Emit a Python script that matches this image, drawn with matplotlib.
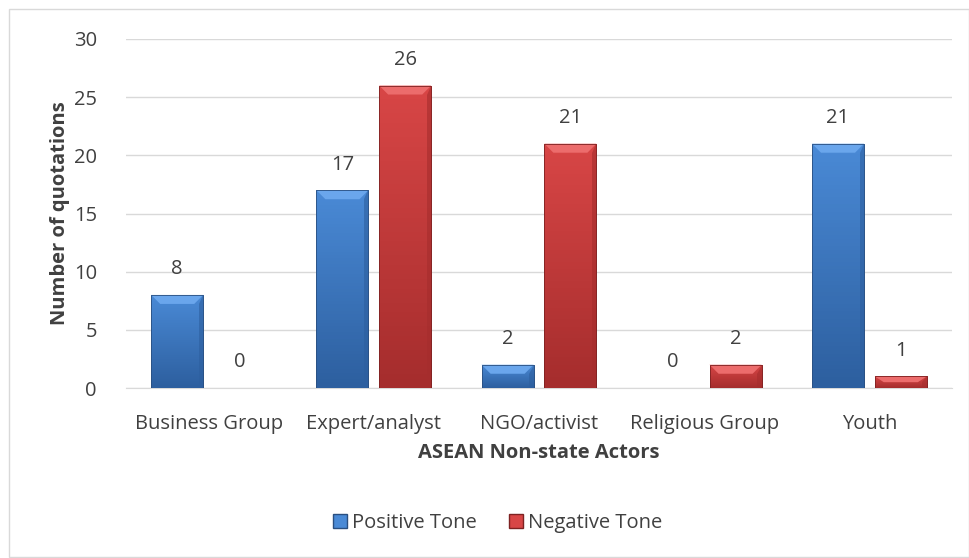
import matplotlib
matplotlib.use("Agg")
import matplotlib.pyplot as plt
from matplotlib.patches import Rectangle, Polygon, Patch
from matplotlib.colors import LinearSegmentedColormap
import numpy as np

categories = ["Business Group", "Expert/analyst", "NGO/activist", "Religious Group", "Youth"]
positive = [8, 17, 2, 0, 21]
negative = [0, 26, 21, 2, 1]
series_names = ["Positive Tone", "Negative Tone"]

plt.rcParams['font.family'] = ['Open Sans', 'DejaVu Sans']
txt = '#404040'
fs = 14.5
fig = plt.figure(figsize=(9.7, 5.58), dpi=100)
fig.patches.append(Rectangle((9/970, 1/558), 960/970, 548/558, transform=fig.transFigure,
                             fill=False, edgecolor='#d9d9d9', linewidth=1))
ax = fig.add_axes([126/970, 1-388/558, 826/970, 349/558])

x = np.arange(len(categories))
w = 0.315
off = 0.19
styles = {
    0: dict(top='#4a8ad6', bot='#2d5f9f', hl='#6aa6ec', edge='#2a4f80'),
    1: dict(top='#d84646', bot='#a52d2d', hl='#ec6c6c', edge='#7e2222'),
}
b1 = ax.bar(x - off, positive, w, color='none', edgecolor='none', label=series_names[0], zorder=3)
b2 = ax.bar(x + off, negative, w, color='none', edgecolor='none', label=series_names[1], zorder=3)

ax.set_xlim(-0.5, 4.5)
ax.set_ylim(0, 30)

px_per_unit = 349 / 30.0
px_per_cat = 826 / 5.0
for k, bars in enumerate((b1, b2)):
    st = styles[k]
    cmap = LinearSegmentedColormap.from_list('g%d' % k, [st['bot'], st['top']])
    for r in bars:
        h = r.get_height()
        if h <= 0:
            continue
        x0 = r.get_x(); x1 = x0 + r.get_width()
        grad = np.linspace(0, 1, 64).reshape(-1, 1)
        im = ax.imshow(grad, cmap=cmap, aspect='auto', extent=(x0, x1, 0, h), origin='lower', zorder=3)
        im.set_clip_path(r)
        bh = min(9 / px_per_unit, h * 0.5)
        bw = 9 / px_per_cat
        ax.add_patch(Polygon([(x0, h), (x1, h), (x1 - bw, h - bh), (x0 + bw, h - bh)],
                             closed=True, facecolor=st['hl'], edgecolor='none', zorder=4))
        ax.add_patch(Polygon([(x1, h), (x1, 0), (x1 - bw * 0.5, 0), (x1 - bw * 0.5, h - bh)],
                             closed=True, facecolor=st['bot'], edgecolor='none', alpha=0.6, zorder=4))
        ax.add_patch(Rectangle((x0, 0), x1 - x0, h, facecolor='none', edgecolor=st['edge'],
                               linewidth=0.6, zorder=5))

for bars, vals in ((b1, positive), (b2, negative)):
    for r, v in zip(bars, vals):
        ax.text(r.get_x() + r.get_width()/2, v + 1.35, str(v), ha='center', va='bottom',
                fontsize=fs, color=txt, zorder=6)

ax.set_yticks(range(0, 31, 5))
ax.set_xticks(x)
ax.set_xticklabels(categories, fontsize=fs, color=txt)
ax.tick_params(axis='y', labelsize=fs, labelcolor=txt, length=0, pad=21)
ax.tick_params(axis='x', length=0, pad=19)
ax.grid(axis='y', color='#d9d9d9', linewidth=1, zorder=0)
ax.set_axisbelow(True)
for s in ['top', 'right', 'left']:
    ax.spines[s].set_visible(False)
ax.spines['bottom'].set_color('#d9d9d9')
ax.set_ylabel("Number of quotations", fontsize=fs, fontweight='bold', color=txt, labelpad=3)
ax.set_xlabel("ASEAN Non-state Actors", fontsize=fs, fontweight='bold', color=txt, labelpad=6)

handles = [Patch(facecolor=styles[0]['top'], edgecolor=styles[0]['edge']),
           Patch(facecolor=styles[1]['top'], edgecolor=styles[1]['edge'])]
fig.legend(handles=handles, labels=series_names, loc='center', bbox_to_anchor=(498/970, 1-523/558),
           ncol=2, frameon=False, fontsize=fs, handlelength=0.7, handleheight=0.7,
           columnspacing=1.6, handletextpad=0.25, labelcolor=txt)

fig.savefig("out.png", dpi=100)
